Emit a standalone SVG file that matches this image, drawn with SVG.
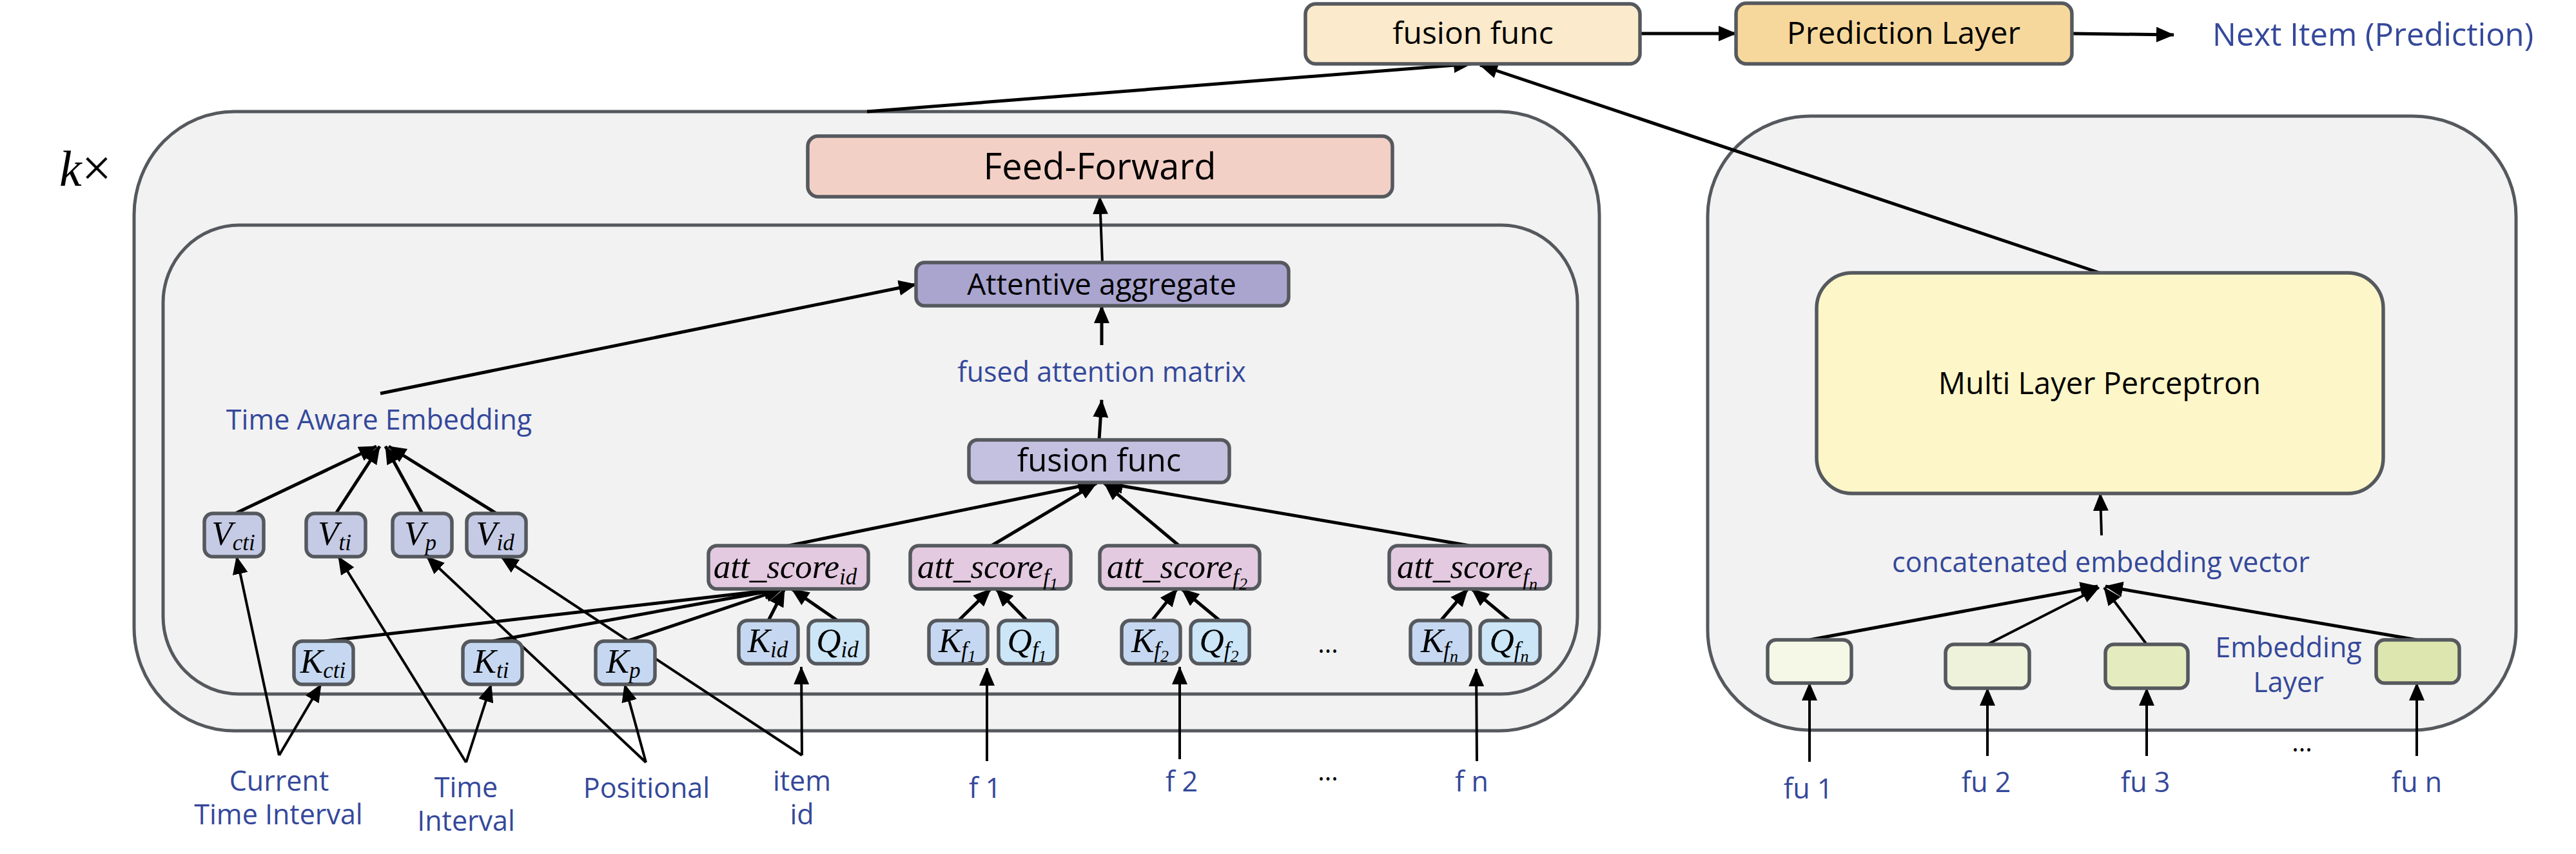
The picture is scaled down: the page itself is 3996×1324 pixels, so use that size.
<svg xmlns="http://www.w3.org/2000/svg" width="3996" height="1324" viewBox="0 0 3996 1324">
<defs>
<marker id="ah" viewBox="0 0 28 24" refX="27" refY="12" markerWidth="28" markerHeight="24" markerUnits="userSpaceOnUse" orient="auto">
<path d="M0,0 L28,12 L0,24 z" fill="#000"/>
</marker>
<style>
.panel{fill:#f2f2f2;stroke:#55595e;stroke-width:5}
.box{stroke:#55595e;stroke-width:5.5}
.lbl{font-family:"Open Sans","Noto Sans",sans-serif;fill:#000;text-anchor:middle}
.blue{font-family:"Open Sans","Noto Sans",sans-serif;fill:#34489a;font-size:43px;text-anchor:middle}
.m{font-family:"Liberation Serif","DejaVu Serif",serif;font-style:italic;fill:#000;text-anchor:middle;font-size:53px}
.sub{font-size:35px}
.sub2{font-size:26px}
.c{fill:none;stroke:#000;stroke-width:5}
.t{fill:none;stroke:#000;stroke-width:4}
.a{marker-end:url(#ah)}
.V{fill:#c5cbe5}
.K{fill:#c6d8f1}
.Q{fill:#cce6f7}
.S{fill:#e3cae0}
</style>
</defs>

<g id="panel-left">
<rect class="panel" x="208" y="173" width="2273" height="960" rx="155" ry="160"/>
</g>
<g id="panel-inner">
<rect class="panel" x="253" y="349" width="2194" height="727" rx="118" ry="120"/>
</g>
<g id="panel-right">
<rect class="panel" x="2649" y="180" width="1254" height="952" rx="160" ry="155"/>
</g>
<text id="k-times" x="92" y="288" font-family="Liberation Serif, serif" font-size="78"><tspan font-style="italic">k</tspan><tspan font-size="82">×</tspan></text>

<g id="connectors">
<path class="c a" d="M1345,173 L2282,99"/>
<path class="c a" d="M3257,423 L2296,101"/>
<path class="c a" d="M2544,52 L2693,52"/>
<path class="c a" d="M3214,52 L3372,54"/>
<path class="t a" d="M1710,407 L1706,305"/>
<path class="c a" d="M1709,535 L1709,474"/>
<path class="c a" d="M1705,682 L1709,620"/>
<path class="c a" d="M590,610 L1421,441"/>
<path class="c a" d="M1223,846 L1699,749"/>
<path class="c a" d="M1538,846 L1701,749"/>
<path class="c a" d="M1829,846 L1713,749"/>
<path class="c a" d="M2280,846 L1715,749"/>
<path class="c a" d="M365,796 L584,692"/>
<path class="c a" d="M521,796 L589,692"/>
<path class="c a" d="M655,796 L598,692"/>
<path class="c a" d="M770,796 L603,692"/>
<path class="c a" d="M503,994 L1213,913"/>
<path class="c a" d="M764,994 L1213,913"/>
<path class="c a" d="M972,994 L1214,913"/>
<path class="c a" d="M1192,962 L1217,913"/>
<path class="c a" d="M1299,962 L1228,913"/>
<path class="c a" d="M1487,962 L1537,913"/>
<path class="c a" d="M1593,962 L1545,913"/>
<path class="c a" d="M1787,962 L1826,913"/>
<path class="c a" d="M1892,962 L1833,913"/>
<path class="c a" d="M2235,962 L2277,913"/>
<path class="c a" d="M2342,962 L2283,913"/>
<path class="t a" d="M433,1171 L367,863"/>
<path class="t a" d="M433,1171 L498,1061"/>
<path class="t a" d="M723,1182 L525,863"/>
<path class="t a" d="M723,1182 L762,1061"/>
<path class="t a" d="M1002,1182 L662,863"/>
<path class="t a" d="M1002,1182 L969,1061"/>
<path class="t a" d="M1244,1171 L777,863"/>
<path class="t a" d="M1244,1171 L1243,1034"/>
<path class="t a" d="M1531,1180 L1531,1036"/>
<path class="t a" d="M1830,1177 L1830,1034"/>
<path class="t a" d="M2291,1180 L2290,1037"/>
<path class="t a" d="M3260,830 L3258,765"/>
<path class="c a" d="M2807,992 L3254,909"/>
<path class="t a" d="M3083,999 L3256,911"/>
<path class="t a" d="M3330,999 L3264,911"/>
<path class="c a" d="M3749,992 L3266,909"/>
<path class="t a" d="M2807,1181 L2807,1059"/>
<path class="t a" d="M3083,1172 L3083,1067"/>
<path class="t a" d="M3330,1172 L3330,1067"/>
<path class="t a" d="M3749,1172 L3749,1059"/>
</g>

<g id="fusion-top">
<rect class="box" x="2025" y="6" width="519" height="93" rx="16" fill="#fbeacb"/>
<text class="lbl" x="2285" y="68" font-size="48">fusion func</text>
</g>
<g id="prediction-layer">
<rect class="box" x="2693" y="5" width="521" height="94" rx="16" fill="#f7d89c"/>
<text class="lbl" x="2953" y="68" font-size="48">Prediction Layer</text>
</g>
<g id="next-item">
<text x="3432" y="71" font-family="Open Sans, Noto Sans, sans-serif" font-size="49" fill="#34489a">Next Item (Prediction)</text>
</g>

<g id="feed-forward">
<rect class="box" x="1253" y="211" width="907" height="94" rx="16" fill="#f3d0c6"/>
<text class="lbl" x="1706" y="278" font-size="56">Feed-Forward</text>
</g>
<g id="attentive-aggregate">
<rect class="box" x="1421" y="407" width="578" height="67" rx="13" fill="#aaa5cf"/>
<text class="lbl" x="1709" y="457" font-size="46">Attentive aggregate</text>
</g>
<g id="fused-attention-matrix">
<text class="blue" x="1709" y="592">fused attention matrix</text>
</g>
<g id="fusion-mid">
<rect class="box" x="1503" y="682" width="404" height="66" rx="13" fill="#c4c0df"/>
<text class="lbl" x="1705" y="731" font-size="49">fusion func</text>
</g>
<g id="time-aware-embedding">
<text class="blue" x="588" y="666">Time Aware Embedding</text>
</g>

<g id="att-score-id">
<rect class="box S" x="1099" y="846" width="248" height="67" rx="13"/>
<text class="m" x="1218" y="896" font-size="52">att_score<tspan class="sub" dy="10">id</tspan></text>
</g>
<g id="att-score-f1">
<rect class="box S" x="1412" y="846" width="249" height="67" rx="13"/>
<text class="m" x="1532" y="896" font-size="52">att_score<tspan class="sub" dy="10">f</tspan><tspan class="sub2" dy="8">1</tspan></text>
</g>
<g id="att-score-f2">
<rect class="box S" x="1706" y="846" width="248" height="67" rx="13"/>
<text class="m" x="1826" y="896" font-size="52">att_score<tspan class="sub" dy="10">f</tspan><tspan class="sub2" dy="8">2</tspan></text>
</g>
<g id="att-score-fn">
<rect class="box S" x="2155" y="846" width="250" height="67" rx="13"/>
<text class="m" x="2276" y="896" font-size="52">att_score<tspan class="sub" dy="10">f</tspan><tspan class="sub2" dy="8">n</tspan></text>
</g>

<g id="V-cti"><rect class="box V" x="317" y="796" width="92" height="67" rx="13"/><text class="m" x="362" y="845">V<tspan class="sub" dy="8">cti</tspan></text></g>
<g id="V-ti"><rect class="box V" x="475" y="796" width="92" height="67" rx="13"/><text class="m" x="519" y="845">V<tspan class="sub" dy="8">ti</tspan></text></g>
<g id="V-p"><rect class="box V" x="609" y="796" width="92" height="67" rx="13"/><text class="m" x="652" y="845">V<tspan class="sub" dy="8">p</tspan></text></g>
<g id="V-id"><rect class="box V" x="724" y="796" width="92" height="67" rx="13"/><text class="m" x="768" y="845">V<tspan class="sub" dy="8">id</tspan></text></g>

<g id="K-cti"><rect class="box K" x="456" y="994" width="92" height="67" rx="13"/><text class="m" x="501" y="1043">K<tspan class="sub" dy="8">cti</tspan></text></g>
<g id="K-ti"><rect class="box K" x="718" y="994" width="92" height="67" rx="13"/><text class="m" x="762" y="1043">K<tspan class="sub" dy="8">ti</tspan></text></g>
<g id="K-p"><rect class="box K" x="924" y="994" width="92" height="67" rx="13"/><text class="m" x="967" y="1043">K<tspan class="sub" dy="8">p</tspan></text></g>

<g id="K-id"><rect class="box K" x="1146" y="962" width="92" height="67" rx="13"/><text class="m" x="1191" y="1011">K<tspan class="sub" dy="8">id</tspan></text></g>
<g id="Q-id"><rect class="box Q" x="1254" y="962" width="92" height="67" rx="13"/><text class="m" x="1299" y="1011">Q<tspan class="sub" dy="8">id</tspan></text></g>
<g id="K-f1"><rect class="box K" x="1441" y="962" width="91" height="67" rx="13"/><text class="m" x="1485" y="1011">K<tspan class="sub" dy="8">f</tspan><tspan class="sub2" dy="7">1</tspan></text></g>
<g id="Q-f1"><rect class="box Q" x="1549" y="962" width="91" height="67" rx="13"/><text class="m" x="1593" y="1011">Q<tspan class="sub" dy="8">f</tspan><tspan class="sub2" dy="7">1</tspan></text></g>
<g id="K-f2"><rect class="box K" x="1740" y="962" width="91" height="67" rx="13"/><text class="m" x="1784" y="1011">K<tspan class="sub" dy="8">f</tspan><tspan class="sub2" dy="7">2</tspan></text></g>
<g id="Q-f2"><rect class="box Q" x="1847" y="962" width="91" height="67" rx="13"/><text class="m" x="1891" y="1011">Q<tspan class="sub" dy="8">f</tspan><tspan class="sub2" dy="7">2</tspan></text></g>
<g id="K-fn"><rect class="box K" x="2188" y="962" width="93" height="67" rx="13"/><text class="m" x="2233" y="1011">K<tspan class="sub" dy="8">f</tspan><tspan class="sub2" dy="7">n</tspan></text></g>
<g id="Q-fn"><rect class="box Q" x="2296" y="962" width="93" height="67" rx="13"/><text class="m" x="2341" y="1011">Q<tspan class="sub" dy="8">f</tspan><tspan class="sub2" dy="7">n</tspan></text></g>

<g id="dots-row"><text class="lbl" x="2060" y="1012" font-size="40">...</text></g>

<g id="in-cti"><text class="blue" x="433" y="1226">Current</text><text class="blue" x="432" y="1278">Time Interval</text></g>
<g id="in-ti"><text class="blue" x="723" y="1236">Time</text><text class="blue" x="723" y="1288">Interval</text></g>
<g id="in-pos"><text class="blue" x="1003" y="1237">Positional</text></g>
<g id="in-item"><text class="blue" x="1244" y="1226">item</text><text class="blue" x="1244" y="1278">id</text></g>
<g id="in-f1"><text class="blue" x="1528" y="1237">f 1</text></g>
<g id="in-f2"><text class="blue" x="1833" y="1227">f 2</text></g>
<g id="dots-in"><text class="lbl" x="2060" y="1210" font-size="40">...</text></g>
<g id="in-fn"><text class="blue" x="2283" y="1227">f n</text></g>

<g id="mlp">
<rect class="box" x="2818" y="423" width="879" height="342" rx="55" fill="#fdf6c8"/>
<text class="lbl" x="3257" y="611" font-size="47">Multi Layer Perceptron</text>
</g>
<g id="concat-vector"><text class="blue" x="3259" y="887">concatenated embedding vector</text></g>
<g id="emb-fu1"><rect class="box" x="2742" y="992" width="130" height="67" rx="13" fill="#f5f8e6"/></g>
<g id="emb-fu2"><rect class="box" x="3018" y="999" width="130" height="68" rx="13" fill="#eef2da"/></g>
<g id="emb-fu3"><rect class="box" x="3266" y="999" width="128" height="68" rx="13" fill="#e4ecbf"/></g>
<g id="emb-fun"><rect class="box" x="3686" y="992" width="129" height="67" rx="13" fill="#dee6b0"/></g>
<g id="embedding-layer"><text class="blue" x="3550" y="1019" font-size="42">Embedding</text><text class="blue" x="3550" y="1073" font-size="42">Layer</text></g>
<g id="in-fu1"><text class="blue" x="2805" y="1238">fu 1</text></g>
<g id="in-fu2"><text class="blue" x="3081" y="1228">fu 2</text></g>
<g id="in-fu3"><text class="blue" x="3328" y="1228">fu 3</text></g>
<g id="dots-fu"><text class="lbl" x="3571" y="1165" font-size="40">...</text></g>
<g id="in-fun"><text class="blue" x="3749" y="1228">fu n</text></g>
</svg>
